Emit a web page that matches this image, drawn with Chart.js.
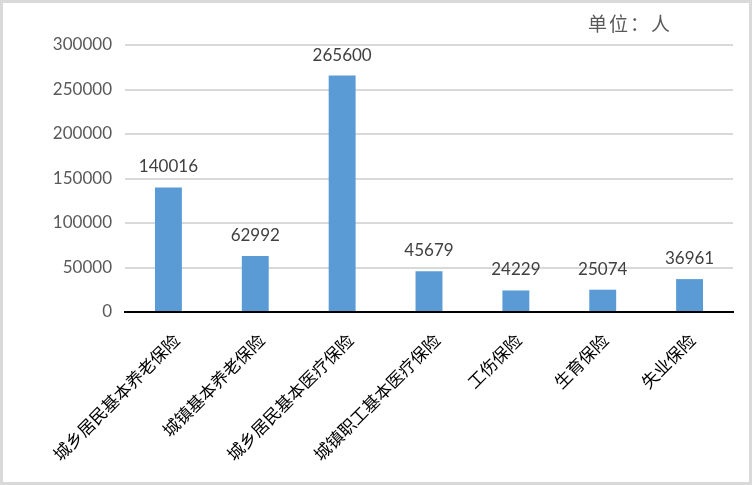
<!DOCTYPE html>
<html>
<head>
<meta charset="utf-8">
<script src="https://cdn.jsdelivr.net/npm/chart.js@4.4.0/dist/chart.umd.min.js"></script>
<style>
html,body{margin:0;padding:0;background:#fff;}
#wrap{position:relative;width:752px;height:485px;}
canvas{display:block;}
</style>
</head>
<body>
<div id="wrap"><canvas id="c" width="752" height="485"></canvas></div>
<script>
const categories = ['城乡居民基本养老保险','城镇基本养老保险','城乡居民基本医疗保险','城镇职工基本医疗保险','工伤保险','生育保险','失业保险'];
const values = [140016, 62992, 265600, 45679, 24229, 25074, 36961];
const yTicks = [0, 50000, 100000, 150000, 200000, 250000, 300000];
const unitText = '单位：人';

const numFont = 'Lato, "Open Sans", sans-serif';
const cjkFont = '"Noto Sans CJK SC", sans-serif';

const extras = {
  id: 'extras',
  beforeDraw(chart) {
    const ctx = chart.ctx;
    ctx.save();
    ctx.fillStyle = '#ffffff';
    ctx.fillRect(0, 0, chart.width, chart.height);
    ctx.restore();
    // shorter rotated labels sit slightly further left (as in the source rendering)
    const xs = chart.scales.x;
    if (xs && typeof xs.getLabelItems === 'function') {
      const items = xs.getLabelItems();
      items.forEach(it => {
        if (it.__adj) return;
        const n = String(it.label).length;
        if (it.options && it.options.translation) {
          it.options.translation[0] += (n - 10) * 0.9;
        }
        it.__adj = true;
      });
    }
  },
  afterDatasetsDraw(chart) {
    const ctx = chart.ctx;
    const meta = chart.getDatasetMeta(0);
    ctx.save();
    ctx.font = '17px ' + numFont;
    ctx.fillStyle = '#404040';
    ctx.textAlign = 'center';
    ctx.textBaseline = 'bottom';
    meta.data.forEach((bar, i) => {
      ctx.fillText(String(values[i]), bar.x, bar.y - 12);
    });
    ctx.restore();
  },
  afterDraw(chart) {
    const ctx = chart.ctx;
    ctx.save();
    ctx.font = '19px ' + cjkFont;
    ctx.fillStyle = '#595959';
    ctx.textAlign = 'left';
    ctx.textBaseline = 'middle';
    ctx.letterSpacing = '2px';
    ctx.fillText(unitText, 588, 24);
    ctx.strokeStyle = '#d9d9d9';
    ctx.lineWidth = 3;
    ctx.strokeRect(1.5, 1.5, chart.width - 3, chart.height - 3);
    ctx.restore();
  }
};

new Chart(document.getElementById('c'), {
  type: 'bar',
  data: {
    labels: categories,
    datasets: [{
      data: values,
      backgroundColor: '#5b9bd5',
      borderWidth: 0,
      categoryPercentage: 1,
      barPercentage: 0.31
    }]
  },
  options: {
    responsive: false,
    animation: false,
    devicePixelRatio: 1,
    layout: { padding: { top: 45, right: 19, left: 0, bottom: 0 } },
    plugins: { legend: { display: false }, tooltip: { enabled: false } },
    scales: {
      x: {
        grid: { display: false, drawTicks: false },
        border: { display: true, color: '#000000', width: 2 },
        ticks: {
          color: '#000000',
          font: { size: 17, family: cjkFont },
          maxRotation: 45,
          minRotation: 45,
          padding: 18,
          labelOffset: 8,
          autoSkip: false
        },
        afterFit(scale) { scale.height = 173; }
      },
      y: {
        min: 0,
        max: 300000,
        afterBuildTicks(scale) { scale.ticks = yTicks.map(v => ({ value: v })); },
        grid: { color: '#d9d9d9', lineWidth: 2, drawTicks: false },
        border: { display: false },
        ticks: {
          color: '#595959',
          font: { size: 17, family: numFont },
          padding: 13,
          callback: (v) => String(v)
        },
        afterFit(scale) { scale.width = 125; }
      }
    }
  },
  plugins: [extras]
});
</script>
</body>
</html>
